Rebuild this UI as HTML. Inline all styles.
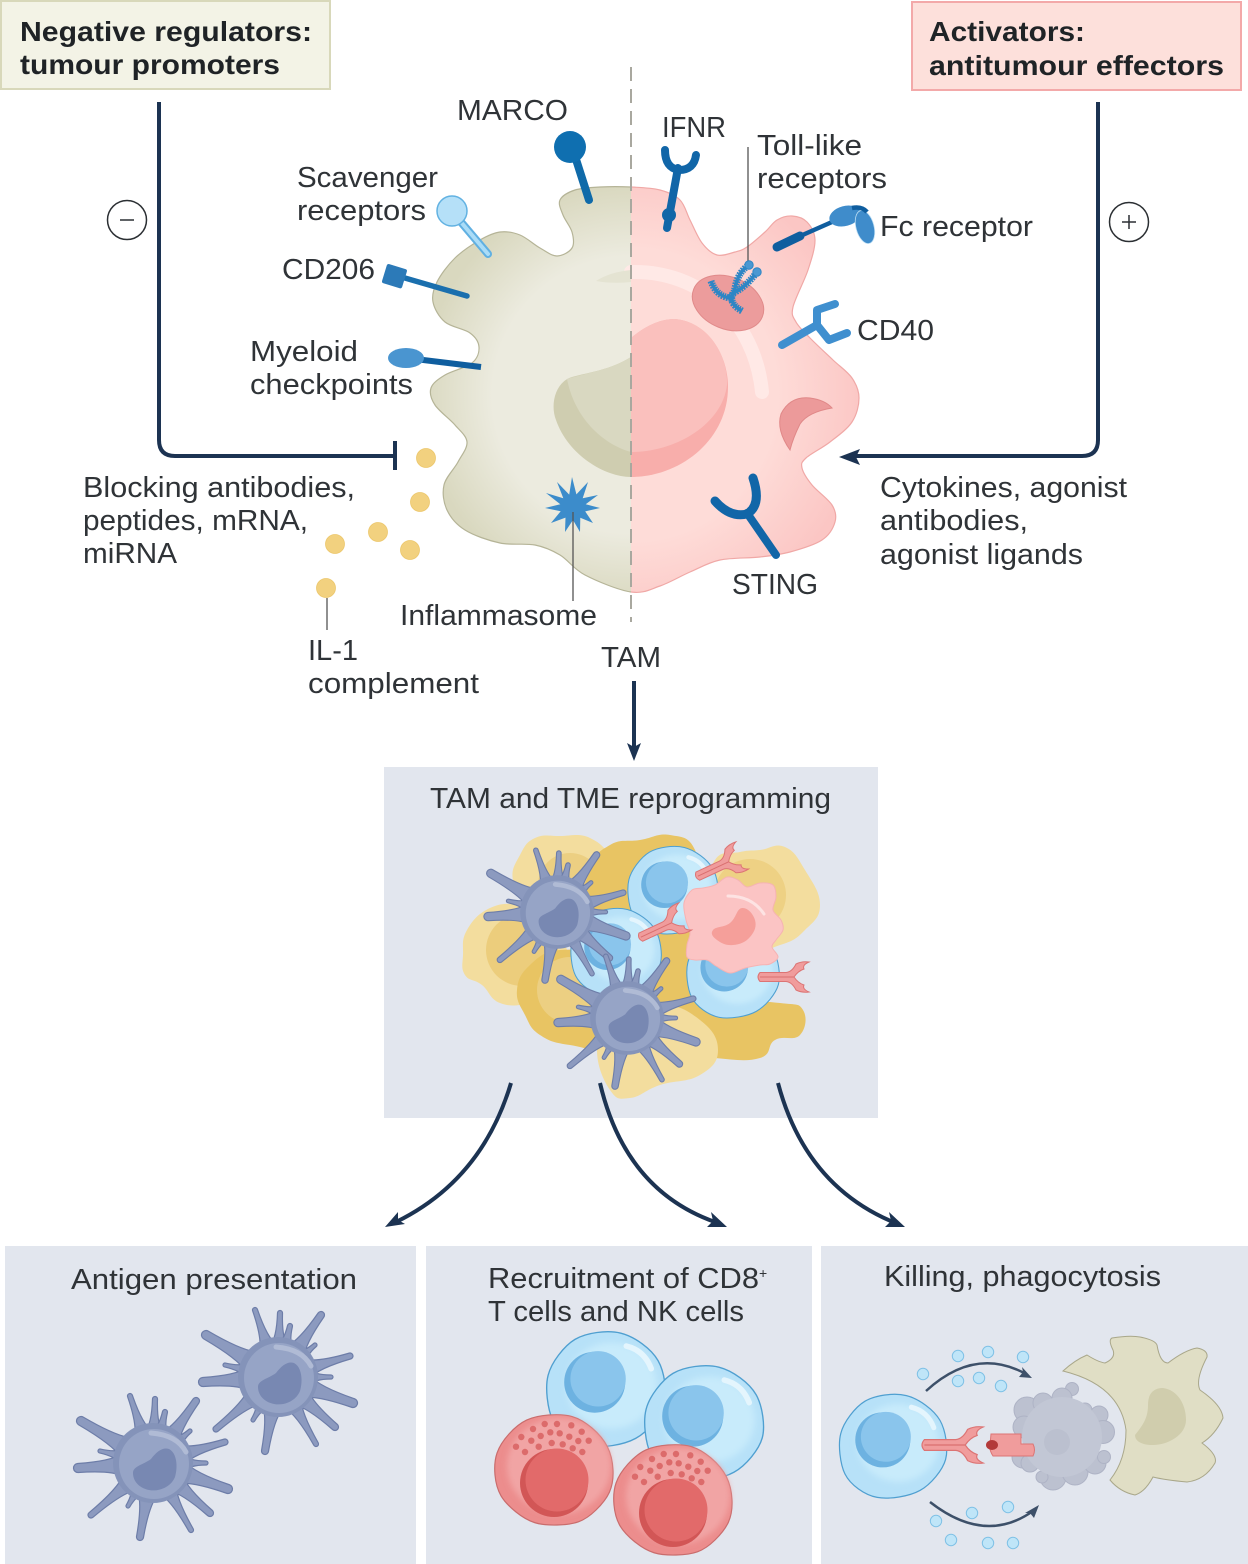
<!DOCTYPE html>
<html lang="en">
<head>
<meta charset="utf-8">
<title>TAM reprogramming</title>
<style>
html,body{margin:0;padding:0;background:#fff}
svg{display:block}
text{font-family:"Liberation Sans",sans-serif;font-size:29px;fill:#2f3337;font-weight:400}
text.b{font-weight:700;fill:#1f2326;font-size:28px}
</style>
</head>
<body>
<svg id="figure" xmlns="http://www.w3.org/2000/svg" width="1248" height="1564" viewBox="0 0 1248 1564">
<defs>
  <radialGradient id="gl" gradientUnits="userSpaceOnUse" cx="631" cy="395" r="210"><stop offset="0.66" stop-color="#ecebdf"/><stop offset="1" stop-color="#d9d8bf"/></radialGradient>
  <radialGradient id="gr" gradientUnits="userSpaceOnUse" cx="631" cy="395" r="235"><stop offset="0.62" stop-color="#fedcd8"/><stop offset="1" stop-color="#fbc6c4"/></radialGradient>
  <clipPath id="cl"><rect x="0" y="0" width="631" height="800"/></clipPath>
  <clipPath id="cr"><rect x="631" y="0" width="400" height="800"/></clipPath>
  <filter id="soft" x="-20%" y="-20%" width="140%" height="140%"><feGaussianBlur stdDeviation="3"/></filter>
  <g id="tcell">
    <path data-pts="-52,8 -42,-30 -8,-50 32,-40 52,-6 42,30 6,50 -34,42" fill="#b7e1f8" stroke="#4f9fd0" stroke-width="1.2"/>
    <ellipse cx="5" cy="-3" rx="40" ry="38" fill="#c8ebfb" filter="url(#soft)"/>
    <circle cx="-10" cy="-6" r="27" fill="#6db2e1"/>
    <circle cx="-7" cy="-9" r="24.5" fill="#8ac5ec"/>
    <path d="M18,-38 Q34,-34 40,-18" stroke="#e4f5fd" stroke-width="5" fill="none" stroke-linecap="round"/>
  </g>
  <g id="nk">
    <path data-pts="-59,5 -45,-36 -5,-55 38,-42 59,0 42,40 3,55 -38,42" fill="#ec8d8d" stroke="#c96c6c" stroke-width="1.2"/>
    <ellipse cx="5" cy="-4" rx="52" ry="48" fill="#f1a4a4" filter="url(#soft)"/>
    <circle cx="0" cy="13" r="34" fill="#d25656"/>
    <circle cx="3" cy="10" r="31.5" fill="#e26a6a"/>
    <g fill="#dc6b6b">
      <circle cx="-9.3" cy="-46" r="3.2"/><circle cx="3" cy="-46" r="3.2"/><circle cx="17.3" cy="-44.7" r="3.2"/><circle cx="-21" cy="-41" r="3.2"/>
      <circle cx="27.7" cy="-38.3" r="3.2"/><circle cx="-32.7" cy="-33" r="3.2"/><circle cx="-13.3" cy="-34" r="3.2"/><circle cx="-3.7" cy="-37.7" r="3.2"/>
      <circle cx="5.7" cy="-36.7" r="3.2"/><circle cx="15.3" cy="-33.3" r="3.2"/><circle cx="24.3" cy="-29" r="3.2"/><circle cx="34.7" cy="-29.3" r="3.2"/>
      <circle cx="-22.7" cy="-29.3" r="3.2"/><circle cx="-38" cy="-23.3" r="3.2"/><circle cx="-29" cy="-18" r="3.2"/><circle cx="-15.3" cy="-23.3" r="3.2"/>
      <circle cx="-2.3" cy="-27" r="3.2"/><circle cx="8.7" cy="-25.7" r="3.2"/><circle cx="18.7" cy="-21.7" r="3.2"/><circle cx="28.3" cy="-18" r="3.2"/>
    </g>
  </g>
  <g id="antibody">
    <path d="M2,-4.5 H28 Q34,-5 38,-13 Q44,-16 51,-15 Q44,-12 46,-8 Q40,-6 36,0 Q40,6 46,8 Q44,12 51,15 Q44,16 38,13 Q34,5 28,4.5 H2 Q-2,0 2,-4.5Z" fill="#f09c9c" stroke="#dc7474" stroke-width="1"/>
    <path d="M2,0 H36" stroke="#d96f6f" stroke-width="1"/>
  </g>
  <g id="dc"></g>
</defs>

<!-- top labels -->
<rect x="1" y="1" width="329" height="88" fill="#f3f3e6" stroke="#d8d8ba" stroke-width="2"/>
<rect x="912" y="2" width="329" height="88" fill="#fde0db" stroke="#f3a9a9" stroke-width="2"/>
<text class="b" x="20" y="41" textLength="292" lengthAdjust="spacingAndGlyphs">Negative regulators:</text>
<text class="b" x="20" y="74" textLength="260" lengthAdjust="spacingAndGlyphs">tumour promoters</text>
<text class="b" x="929" y="41" textLength="156" lengthAdjust="spacingAndGlyphs">Activators:</text>
<text class="b" x="929" y="75" textLength="295" lengthAdjust="spacingAndGlyphs">antitumour effectors</text>

<!-- brackets -->
<path d="M159,102 V440 Q159,456 175,456 H395" fill="none" stroke="#1c3352" stroke-width="4"/>
<path d="M395,441 V470" fill="none" stroke="#1c3352" stroke-width="4"/>
<path d="M1098,102 V440 Q1098,456 1082,456 H852" fill="none" stroke="#1c3352" stroke-width="4"/>
<path d="M839,457 L860,449 L856,457 L860,465Z" fill="#1c3352"/>
<g fill="none" stroke="#2b2f33" stroke-width="1.5">
  <circle cx="127" cy="220" r="19.5" fill="#fff"/><path d="M120,220 H134"/>
</g>
<g fill="none" stroke="#2b2f33" stroke-width="1.5">
  <circle cx="1129" cy="222" r="19.5" fill="#fff"/><path d="M1122,222 H1136 M1129,215 V229"/>
</g>

<!-- macrophage -->
<g>
  <path clip-path="url(#cl)" fill="url(#gl)" stroke="#b5b497" stroke-width="1.2" data-pts="631,187 600,187 575,190 560,200 563,215 572,232 572,248 557,256 540,248 520,235 500,232 480,240 455,258 437,282 433,302 445,322 470,333 479,347 472,363 445,375 431,388 435,405 455,425 467,442 458,462 444,485 447,510 465,530 500,543 535,545 560,555 585,575 631,592 660,586 690,572 720,560 760,557 790,552 822,540 835,522 832,505 812,485 802,468 806,458 830,442 852,422 859,398 852,378 833,360 810,338 796,322 793,307 808,270 815,240 807,222 792,216 777,220 765,232 747,247 735,252 717,255 702,243 690,220 680,200 660,190"/>
  <path clip-path="url(#cr)" fill="url(#gr)" stroke="#f0a8a6" stroke-width="1.2" data-pts="631,187 600,187 575,190 560,200 563,215 572,232 572,248 557,256 540,248 520,235 500,232 480,240 455,258 437,282 433,302 445,322 470,333 479,347 472,363 445,375 431,388 435,405 455,425 467,442 458,462 444,485 447,510 465,530 500,543 535,545 560,555 585,575 631,592 660,586 690,572 720,560 760,557 790,552 822,540 835,522 832,505 812,485 802,468 806,458 830,442 852,422 859,398 852,378 833,360 810,338 796,322 793,307 808,270 815,240 807,222 792,216 777,220 765,232 747,247 735,252 717,255 702,243 690,220 680,200 660,190"/>
  <path d="M631,272 C700,270 755,320 762,392" fill="none" stroke="#ffe9e6" stroke-width="14" stroke-linecap="round"/>
  <path d="M631,270 Q610,272 596,281 Q612,284 631,282Z" fill="#e4e3d2"/>
  <path fill="#cfcdb0" d="M631,357 C610,370 590,372 572,377 C555,382 550,405 556,420 C568,455 605,477 631,477Z"/>
  <path fill="#d9d8c1" d="M631,357 C610,370 590,372 567,379 C575,420 605,445 631,452Z"/>
  <path fill="#f8aeab" d="M631,338 C650,322 665,319 675,319 C708,322 728,355 728,387 C728,440 680,477 631,477Z"/>
  <path fill="#fac0bd" d="M631,338 C650,322 665,319 675,319 C708,322 728,355 727,385 C722,425 675,452 631,452Z"/>
  <path fill="#ec9a9a" stroke="#e08888" stroke-width="1" d="M790,450 Q776,430 781,414 Q790,396 810,398 Q825,400 832,408 Q808,412 800,424 Q793,438 790,450Z"/>
  <ellipse cx="728" cy="303" rx="37" ry="26" transform="rotate(22 728 303)" fill="#ec9c9c" stroke="#e08a8a"/>
</g>
<line x1="631" y1="67" x2="631" y2="622" stroke="#a9a89f" stroke-width="2" stroke-dasharray="14 8"/>

<!-- receptors -->
<g>
  <line x1="573" y1="150" x2="589" y2="200" stroke="#0f6aa9" stroke-width="8" stroke-linecap="round"/>
  <circle cx="570" cy="147" r="16" fill="#0f6fb0"/>
</g>
<g>
  <line x1="455" y1="215" x2="488" y2="254" stroke="#60b0e2" stroke-width="8" stroke-linecap="round"/>
  <line x1="455" y1="215" x2="488" y2="254" stroke="#aadcf7" stroke-width="4" stroke-linecap="round"/>
  <circle cx="452" cy="211" r="15" fill="#b5e0f8" stroke="#62b2e2" stroke-width="1.5"/>
</g>
<g>
  <line x1="398" y1="276" x2="467" y2="296" stroke="#1a6fae" stroke-width="5.5" stroke-linecap="round"/>
  <rect x="384" y="266" width="21" height="20" rx="2" transform="rotate(17 394 276)" fill="#2c7ab8"/>
</g>
<g>
  <line x1="415" y1="359" x2="481" y2="367" stroke="#0f5e9f" stroke-width="6"/>
  <ellipse cx="406" cy="358" rx="18" ry="10" fill="#4a95d0"/>
</g>
<g fill="none" stroke="#1166a8" stroke-linecap="round">
  <path d="M667,228 L678,168" stroke-width="8"/>
  <path d="M665,150 Q665,168 679,170 Q694,170 696,155" stroke-width="8"/>
  <circle cx="669" cy="215" r="4.5" stroke-width="5" fill="#1166a8"/>
</g>
<line x1="748" y1="147" x2="748" y2="262" stroke="#555" stroke-width="1.3"/>
<g fill="none" stroke="#2e86c5">
  <g stroke-width="3.5">
    <path d="M711,281 Q716,296 730,298 Q734,294 735,288 Q738,272 749,265"/>
    <path d="M742,311 Q728,303 733,293 Q745,288 757,272"/>
  </g>
  <g stroke-width="7" stroke-dasharray="1.6 1">
    <path d="M711,281 Q716,296 730,298 Q734,294 735,288 Q738,272 749,265"/>
    <path d="M742,311 Q728,303 733,293 Q745,288 757,272"/>
  </g>
  <circle cx="749" cy="265" r="4.2" fill="#4a98d2" stroke-width="1"/>
  <circle cx="757" cy="272" r="4.2" fill="#4a98d2" stroke-width="1"/>
</g>
<g>
  <line x1="777" y1="247" x2="800" y2="236" stroke="#0f5e9f" stroke-width="9" stroke-linecap="round"/>
  <line x1="798" y1="237" x2="832" y2="222" stroke="#0f5e9f" stroke-width="4.5"/>
  <ellipse cx="845" cy="216" rx="16" ry="10" transform="rotate(-15 845 216)" fill="#3f8ccb"/>
  <ellipse cx="865" cy="227" rx="9" ry="17" transform="rotate(-15 865 227)" fill="#3f8ccb" stroke="#bfe0f5" stroke-width="0.8"/>
  <path d="M852,208 Q862,206 867,212" fill="none" stroke="#0f5e9f" stroke-width="4.5"/>
</g>
<g fill="none" stroke="#3f8fcf" stroke-width="8" stroke-linecap="round" stroke-linejoin="round">
  <path d="M782,345 L817,325 L817,310 L835,304"/>
  <path d="M817,325 L829,340 L847,333"/>
</g>
<g fill="none" stroke="#1166a8" stroke-linecap="round">
  <path d="M776,555 L747,513" stroke-width="8"/>
  <path d="M715,501 Q730,518 747,514 Q762,505 753,478" stroke-width="9"/>
</g>
<polygon id="star" fill="#3c8ccb" points="572,477 576.4,494.4 588,482 582.7,498.3 598,495 585.7,504.3 600,508 585.2,511.4 593,523 580.3,517.8 580,532 573,520 565,532 565.5,517.6 551,523 560.7,511.2 545,508 560.3,504.2 546,493 563.3,498.3 557,482 569.2,494.6"/>
<line x1="573" y1="512" x2="573" y2="601" stroke="#555" stroke-width="1.3"/>

<!-- molecules -->
<g fill="#f2d17f" stroke="#ecc76c" stroke-width="0.8">
  <circle cx="426" cy="458" r="9.5"/><circle cx="420" cy="502" r="9.5"/><circle cx="378" cy="532" r="9.5"/>
  <circle cx="410" cy="550" r="9.5"/><circle cx="335" cy="544" r="9.5"/><circle cx="326" cy="588" r="9.5"/>
</g>
<line x1="327" y1="598" x2="327" y2="630" stroke="#555" stroke-width="1.3"/>

<!-- labels top section -->
<text x="457" y="120" textLength="111" lengthAdjust="spacingAndGlyphs">MARCO</text>
<text x="662" y="137" textLength="64" lengthAdjust="spacingAndGlyphs">IFNR</text>
<text x="757" y="155" textLength="105" lengthAdjust="spacingAndGlyphs">Toll-like</text>
<text x="757" y="188" textLength="130" lengthAdjust="spacingAndGlyphs">receptors</text>
<text x="297" y="187" textLength="141" lengthAdjust="spacingAndGlyphs">Scavenger</text>
<text x="297" y="220" textLength="129" lengthAdjust="spacingAndGlyphs">receptors</text>
<text x="880" y="236" textLength="153" lengthAdjust="spacingAndGlyphs">Fc receptor</text>
<text x="282" y="279" textLength="93" lengthAdjust="spacingAndGlyphs">CD206</text>
<text x="250" y="361" textLength="108" lengthAdjust="spacingAndGlyphs">Myeloid</text>
<text x="250" y="394" textLength="163" lengthAdjust="spacingAndGlyphs">checkpoints</text>
<text x="857" y="340" textLength="77" lengthAdjust="spacingAndGlyphs">CD40</text>
<text x="83" y="497" textLength="272" lengthAdjust="spacingAndGlyphs">Blocking antibodies,</text>
<text x="83" y="530" textLength="225" lengthAdjust="spacingAndGlyphs">peptides, mRNA,</text>
<text x="83" y="563" textLength="94" lengthAdjust="spacingAndGlyphs">miRNA</text>
<text x="880" y="497" textLength="247" lengthAdjust="spacingAndGlyphs">Cytokines, agonist</text>
<text x="880" y="530" textLength="148" lengthAdjust="spacingAndGlyphs">antibodies,</text>
<text x="880" y="564" textLength="203" lengthAdjust="spacingAndGlyphs">agonist ligands</text>
<text x="732" y="594" textLength="86" lengthAdjust="spacingAndGlyphs">STING</text>
<text x="400" y="625" textLength="197" lengthAdjust="spacingAndGlyphs">Inflammasome</text>
<text x="308" y="660" textLength="50" lengthAdjust="spacingAndGlyphs">IL-1</text>
<text x="308" y="693" textLength="171" lengthAdjust="spacingAndGlyphs">complement</text>
<text x="601" y="667" textLength="60" lengthAdjust="spacingAndGlyphs">TAM</text>

<path d="M634,681 V750" stroke="#1c3352" stroke-width="4" fill="none"/>
<path d="M634,761 L627,743 L634,747 L641,743Z" fill="#1c3352"/>

<!-- panels -->
<rect x="384" y="767" width="494" height="351" fill="#e2e6ee"/>
<rect x="5" y="1246" width="411" height="318" fill="#e2e6ee"/>
<rect x="426" y="1246" width="386" height="318" fill="#e2e6ee"/>
<rect x="821" y="1246" width="427" height="318" fill="#e2e6ee"/>

<text x="430" y="808" textLength="401" lengthAdjust="spacingAndGlyphs">TAM and TME reprogramming</text>
<text x="71" y="1289" textLength="286" lengthAdjust="spacingAndGlyphs">Antigen presentation</text>
<text x="488" y="1288" textLength="271" lengthAdjust="spacingAndGlyphs">Recruitment of CD8</text>
<text x="759" y="1278" style="font-size:14px">+</text>
<text x="488" y="1321" textLength="256" lengthAdjust="spacingAndGlyphs">T cells and NK cells</text>
<text x="884" y="1286" textLength="277" lengthAdjust="spacingAndGlyphs">Killing, phagocytosis</text>

<!-- tumour cluster -->
<g>
  <path fill="#f3dd9e" data-pts="463,955 467,930 490,908 520,905 545,915 570,960 560,990 530,1003 500,1003 482,985 465,975"/>
  <circle cx="522" cy="950" r="36" fill="#eccd7c"/>
  <path fill="#f3dd9e" data-pts="513,880 520,855 535,838 560,836 590,838 610,860 605,890 570,910 530,905"/>
  <circle cx="570" cy="885" r="32" fill="#eccf82"/>
  <path fill="#f3dd9e" data-pts="715,860 740,852 760,850 785,847 805,870 820,905 805,930 780,945 740,950 710,900"/>
  <circle cx="750" cy="895" r="36" fill="#eed184"/>
  <path fill="#e8c463" data-pts="590,870 610,845 640,840 670,835 695,850 700,900 720,960 700,1020 650,1030 600,1000 580,930"/>
  <path fill="#e8c463" data-pts="517,990 530,965 560,950 600,960 620,1000 610,1045 570,1045 540,1035 525,1015"/>
  <circle cx="570" cy="990" r="33" fill="#eccf82"/>
  <path fill="#e8c463" data-pts="680,1000 720,1000 780,1003 803,1010 800,1035 775,1040 760,1058 715,1058 670,1050"/>
  <path fill="#f3dd9e" data-pts="597,1050 610,1020 660,1005 700,1020 718,1050 700,1075 660,1085 630,1098 610,1090"/>
  <use href="#tcell" transform="translate(673,890) scale(.86)"/>
  <use href="#tcell" transform="translate(616,952) scale(.86)"/>
  <use href="#tcell" transform="translate(733,973) scale(.88)"/>
  <use href="#dc" transform="translate(557,912) scale(.92)"/>
  <use href="#dc" transform="translate(627,1018) scale(.92)"/>
  <path fill="#fbc4c4" stroke="#f6b3b3" stroke-width="1" data-pts="684,903 692,890 703,888 715,885 727,877 738,880 747,887 760,883 773,885 776,897 773,910 781,920 783,930 776,940 772,947 778,957 770,964 760,965 745,968 730,973 716,966 707,960 695,960 687,957 687,945 690,933 686,920"/>
  <path fill="#f59f9a" data-pts="713,930 730,923 742,908 755,920 750,937 733,945 717,940"/>
  <path d="M728,896 Q752,896 764,914" fill="none" stroke="#fde3e3" stroke-width="3" stroke-linecap="round"/>
  <use href="#antibody" transform="translate(696,877) rotate(-25)"/>
  <use href="#antibody" transform="translate(639,938) rotate(-25)"/>
  <use href="#antibody" transform="translate(758,977)"/>
</g>

<!-- curved arrows -->
<g fill="none" stroke="#1c3352" stroke-width="4">
  <path d="M511,1083 Q482,1180 396,1222"/>
  <path d="M600,1083 Q625,1190 715,1222"/>
  <path d="M778,1083 Q805,1185 893,1222"/>
</g>
<path d="M385,1227 L398,1212 L398,1220 L405,1224Z" fill="#1c3352"/>
<path d="M727,1227 L707,1227 L713,1221 L711,1212Z" fill="#1c3352"/>
<path d="M905,1227 L885,1227 L891,1221 L889,1212Z" fill="#1c3352"/>

<!-- panel cells -->
<use href="#dc" transform="translate(278,1377)"/>
<use href="#dc" transform="translate(153,1463)"/>
<use href="#tcell" transform="translate(606,1389) scale(1.13)"/>
<use href="#tcell" transform="translate(704,1423) scale(1.13)"/>
<use href="#nk" transform="translate(554,1470)"/>
<use href="#nk" transform="translate(673,1500)"/>

<!-- killing panel -->
<use href="#tcell" transform="translate(893,1446) scale(1.02)"/>
<path fill="#e0dec5" stroke="#a9a78a" stroke-width="1" d="M1063,1371 Q1075,1360 1087,1355 Q1098,1362 1105,1363 Q1116,1358 1113,1350 Q1108,1340 1112,1338 Q1130,1335 1140,1337 Q1155,1340 1157,1345 Q1160,1363 1168,1363 Q1185,1350 1197,1348 Q1208,1350 1207,1357 Q1195,1380 1200,1390 Q1222,1405 1223,1418 Q1215,1435 1202,1443 Q1218,1455 1215,1463 Q1205,1480 1187,1482 Q1165,1480 1153,1477 Q1145,1492 1135,1495 Q1120,1492 1110,1480 Q1126,1460 1126,1430 Q1120,1385 1063,1371Z"/>
<path fill="#d0cdad" d="M1135,1435 C1143,1425 1148,1418 1148,1405 C1148,1392 1155,1388 1163,1388 C1178,1390 1186,1405 1186,1420 C1186,1435 1168,1445 1153,1445 C1143,1445 1135,1442 1135,1435Z"/>
<g>
  <g fill="#bcc1d0" stroke="#aeb3c5" stroke-width="1">
    <circle cx="1027" cy="1410" r="13"/><circle cx="1043" cy="1403" r="10"/><circle cx="1072" cy="1389" r="6.5"/><circle cx="1062" cy="1398" r="10"/>
    <circle cx="1085" cy="1410" r="7"/><circle cx="1099" cy="1415" r="9"/><circle cx="1103" cy="1432" r="11.5"/><circle cx="1024" cy="1427" r="11"/>
    <circle cx="1023" cy="1457" r="11"/><circle cx="1030" cy="1463" r="9"/><circle cx="1053" cy="1477" r="13"/><circle cx="1042" cy="1477" r="6"/>
    <circle cx="1075" cy="1472" r="13"/><circle cx="1095" cy="1463" r="11"/><circle cx="1104" cy="1457" r="6.5"/>
  </g>
  <circle cx="1062" cy="1437" r="40" fill="#c2c7d5"/>
  <circle cx="1057" cy="1442" r="13" fill="#bbc0cf"/>
</g>
<use href="#antibody" transform="translate(922,1445) scale(1.2)"/>
<g>
  <path d="M991,1434 H1021 V1444 H1033 Q1036,1450 1033,1456 H993 Q989,1450 990,1445Z" fill="#f09c9c" stroke="#dc7474"/>
  <ellipse cx="992" cy="1445" rx="6" ry="5" fill="#b33a3a"/>
</g>
<g fill="#bfe5f8" stroke="#7fc1e6" stroke-width="1">
  <circle cx="958" cy="1356" r="5.7"/><circle cx="988" cy="1352" r="5.7"/><circle cx="1023" cy="1357" r="5.7"/><circle cx="923" cy="1374" r="5.7"/>
  <circle cx="958" cy="1381" r="5.7"/><circle cx="979" cy="1378" r="5.7"/><circle cx="1001" cy="1386" r="5.7"/><circle cx="936" cy="1521" r="5.7"/>
  <circle cx="972" cy="1513" r="5.7"/><circle cx="1008" cy="1507" r="5.7"/><circle cx="951" cy="1540" r="5.7"/><circle cx="988" cy="1543" r="5.7"/><circle cx="1013" cy="1543" r="5.7"/>
</g>
<path d="M926,1391 Q975,1346 1026,1374" fill="none" stroke="#3d5069" stroke-width="2.5"/>
<path d="M1032,1378 L1019,1377 L1023,1372 L1022,1367Z" fill="#3d5069"/>
<path d="M930,1502 Q985,1545 1033,1511" fill="none" stroke="#3d5069" stroke-width="2.5"/>
<path d="M1039,1505 L1034,1518 L1030,1513 L1025,1513Z" fill="#3d5069"/>

<script>
var NS = 'http://www.w3.org/2000/svg';
var spikeTips = [[-23,-67,2.5],[2,-64,2.5],[12,-51,2.5],[43,-62,3.5],[37,-32,2],[72,-21,3],[53,0,2],[75,26,4.5],[57,50,3.5],[38,67,2.5],[-13,74,3.5],[-62,52,3],[-25,43,2],[-75,5,4.5],[-53,-12,2],[-72,-42,4.5]];
var dcGroup = document.getElementById('dc');
spikeTips.forEach(function (t) {
  var len = Math.hypot(t[0], t[1]), ux = t[0] / len, uy = t[1] / len, px = -uy, py = ux, tw = t[2], w = tw + 7, b = 30;
  var mx = ux * (b + (len - b) * 0.25), my = uy * (b + (len - b) * 0.25);
  var d = 'M' + (ux * b + px * w) + ',' + (uy * b + py * w) +
    ' Q' + (mx + px * tw) + ',' + (my + py * tw) + ' ' + (t[0] + px * tw) + ',' + (t[1] + py * tw) +
    ' A' + tw + ',' + tw + ' 0 0 0 ' + (t[0] - px * tw) + ',' + (t[1] - py * tw) +
    ' Q' + (mx - px * tw) + ',' + (my - py * tw) + ' ' + (ux * b - px * w) + ',' + (uy * b - py * w) + 'Z';
  var s = document.createElementNS(NS, 'path');
  s.setAttribute('d', d);
  s.setAttribute('fill', '#8c9abf');
  s.setAttribute('stroke', '#6d7da8');
  s.setAttribute('stroke-width', '1.2');
  
  
  dcGroup.appendChild(s);
});
[[0, 0, 40, '#8493b9'], [1, 1, 35, '#96a4c6']].forEach(function (c) {
  var e = document.createElementNS(NS, 'circle');
  e.setAttribute('cx', c[0]);
  e.setAttribute('cy', c[1]);
  e.setAttribute('r', c[2]);
  e.setAttribute('fill', c[3]);
  
  
  dcGroup.appendChild(e);
});
var nuc = document.createElementNS(NS, 'path');
nuc.setAttribute('d', 'M-20,10 C-20,3 -10,2 -2,-4 C4,-12 10,-16 16,-14 C24,-10 25,4 22,14 C18,24 6,29 -4,27 C-14,25 -20,18 -20,10Z');
nuc.setAttribute('fill', '#7888b2');


dcGroup.appendChild(nuc);
var hl = document.createElementNS(NS, 'path');
hl.setAttribute('d', 'M-2,-30 Q24,-28 33,-11');
hl.setAttribute('fill', 'none');
hl.setAttribute('stroke', '#b0bbd5');
hl.setAttribute('stroke-width', '5');
hl.setAttribute('stroke-linecap', 'round');


dcGroup.appendChild(hl);

function smooth(str) {
  var p = str.trim().split(/\s+/).map(function (s) { return s.split(',').map(Number); });
  var n = p.length, k = n > 20 ? 6 : 4.6, d = 'M' + p[0][0] + ',' + p[0][1];
  for (var i = 0; i < n; i++) {
    var a = p[(i - 1 + n) % n], b = p[i], c = p[(i + 1) % n], e = p[(i + 2) % n];
    d += ' C' + (b[0] + (c[0] - a[0]) / k) + ',' + (b[1] + (c[1] - a[1]) / k) + ' ' +
      (c[0] - (e[0] - b[0]) / k) + ',' + (c[1] - (e[1] - b[1]) / k) + ' ' + c[0] + ',' + c[1];
  }
  return d + 'Z';
}
document.querySelectorAll('[data-pts]').forEach(function (el) {
  el.setAttribute('d', smooth(el.getAttribute('data-pts')));
});
</script>
</svg>
</body>
</html>
